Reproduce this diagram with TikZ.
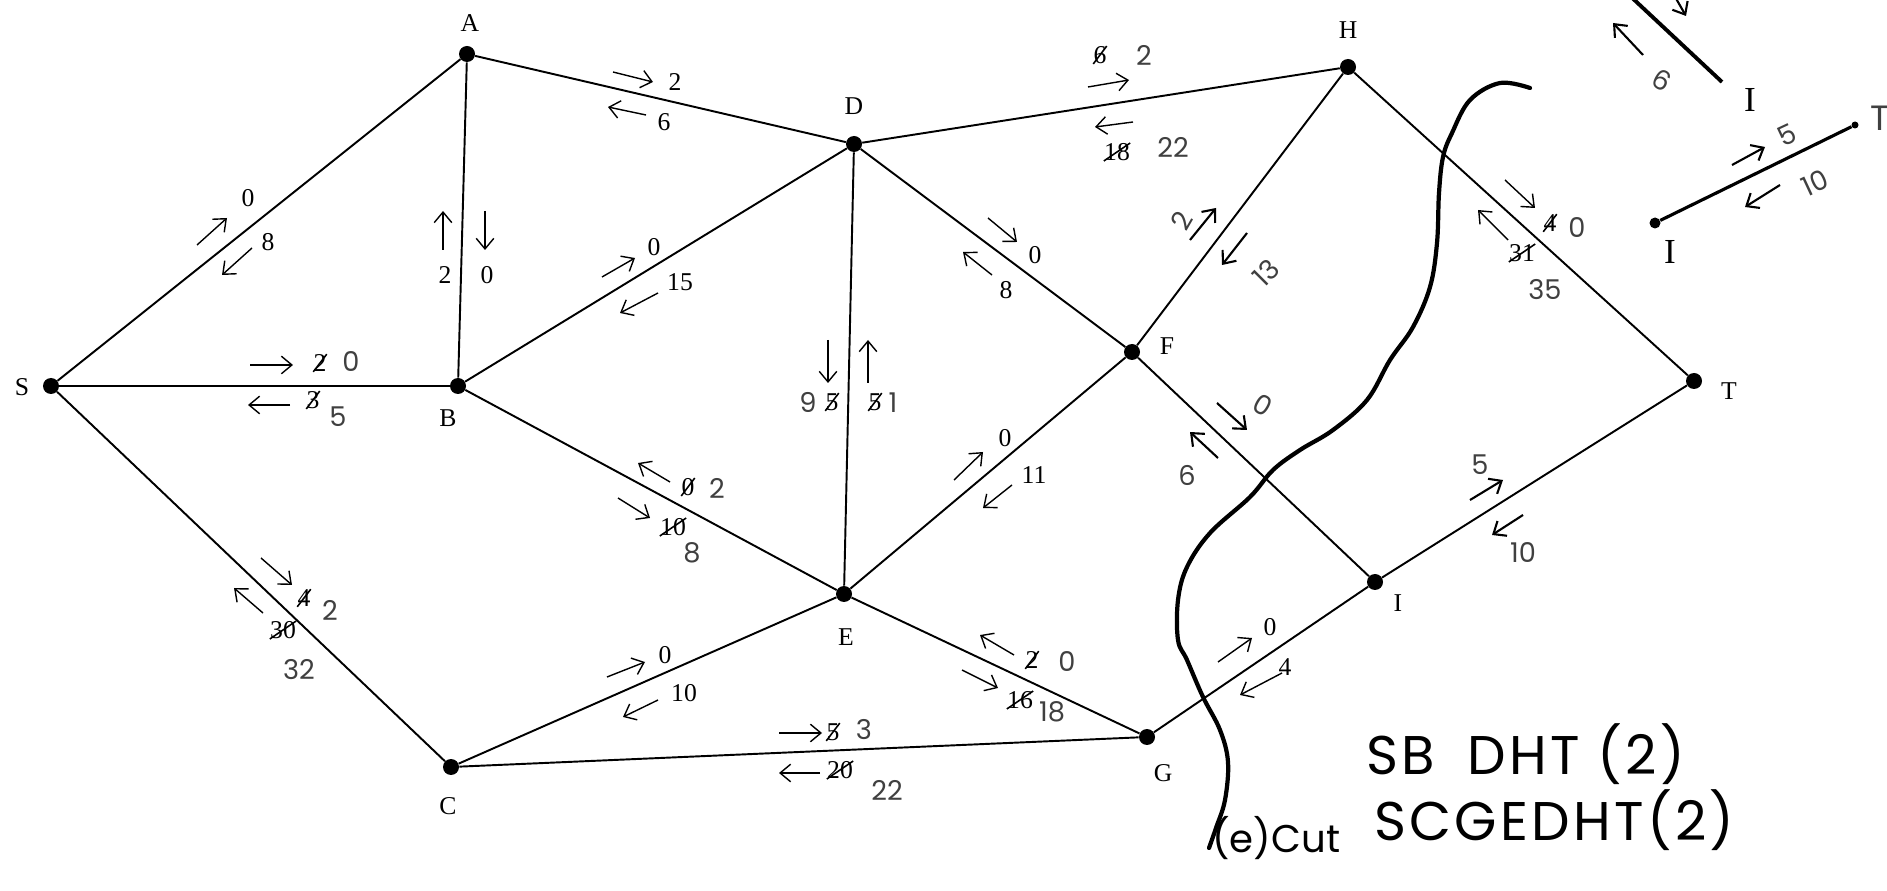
\documentclass[tikz,border=0pt]{standalone}
\usepackage{fontspec}
\setmainfont{Liberation Serif}
\newfontfamily\handfont{Poppins}
\newfontfamily\notefont[LetterSpace=6]{Poppins}
\usetikzlibrary{arrows.meta}

% short flow arrow beside an edge
\newcommand\fl[3][flow]{\draw[#1] (#2) -- (#3);}

\tikzset{
    % vertex dot
    vertex/.style={
        circle,
        fill=black,
        inner sep=0pt,
        minimum size=0.32cm
    },
    % vertex letter
    vname/.style={
        font=\fontsize{14.6}{16}\selectfont,
        inner sep=0pt
    },
    % network edge
    edge/.style={
        line width=1.1pt
    },
    % printed flow arrow
    flow/.style={
        -{Straight Barb[length=6pt,width=10pt]},
        line width=0.8pt
    },
    % hand drawn flow arrow
    handflow/.style={
        flow,
        line width=1.2pt
    },
    % printed capacity
    num/.style={
        font=\fontsize{14.6}{16}\selectfont,
        inner sep=0pt
    },
    % printed capacity, crossed out by hand
    struck/.style={
        num,
        append after command={
            \pgfextra{\let\strnode=\tikzlastnode}
            (\strnode.south west) edge[line width=0.9pt] (\strnode.north east)
        }
    },
    % hand written capacity
    hnum/.style={
        font=\handfont\fontsize{15.5}{18}\selectfont,
        inner sep=0pt,
        text=black!75
    },
    % hand written note
    note/.style={
        font=\notefont\fontsize{31}{34}\selectfont,
        inner sep=0pt,
        anchor=west
    },
    % cut line
    cutline/.style={
        line width=2.4pt,
        line cap=round
    }
}

\begin{document}
\begin{tikzpicture}[x=0.02cm, y=-0.02cm]
\clip (0,0) rectangle (1887,891);
\fill[white] (0,0) rectangle (1887,891);

% vertices
\node[vertex] (S) at (51,386) {};
\node[vertex] (A) at (467,54) {};
\node[vertex] (B) at (458,386) {};
\node[vertex] (C) at (451,767) {};
\node[vertex] (D) at (854,144) {};
\node[vertex] (E) at (844,594) {};
\node[vertex] (F) at (1132,352) {};
\node[vertex] (G) at (1147,737) {};
\node[vertex] (H) at (1348,67) {};
\node[vertex] (I) at (1375,582) {};
\node[vertex] (T) at (1694,381) {};

\node[vname] (nS) at (22,387) {S};
\node[vname] (nA) at (470,23) {A};
\node[vname] (nB) at (448,418) {B};
\node[vname] (nC) at (448,806) {C};
\node[vname] (nD) at (854,106) {D};
\node[vname] (nE) at (846,637) {E};
\node[vname] (nF) at (1167,346) {F};
\node[vname] (nG) at (1163,773) {G};
\node[vname] (nH) at (1348,30) {H};
\node[vname] (nI) at (1398,603) {I};
\node[vname] (nT) at (1729,391) {T};

% edges
\draw[edge] (S) -- (A);
\draw[edge] (S) -- (B);
\draw[edge] (S) -- (C);
\draw[edge] (A) -- (B);
\draw[edge] (A) -- (D);
\draw[edge] (B) -- (D);
\draw[edge] (B) -- (E);
\draw[edge] (C) -- (E);
\draw[edge] (C) -- (G);
\draw[edge] (D) -- (E);
\draw[edge] (D) -- (F);
\draw[edge] (D) -- (H);
\draw[edge] (E) -- (F);
\draw[edge] (E) -- (G);
\draw[edge] (F) -- (H);
\draw[edge] (F) -- (I);
\draw[edge] (G) -- (I);
\draw[edge] (H) -- (T);
\draw[edge] (I) -- (T);

% S-A
\fl{197,245}{227,218} \node[num] (sa1) at (248,198) {0};
\fl{252,248}{222,275} \node[num] (sa2) at (268,242) {8};
% A-B
\fl{443,250}{443,211} \node[num] (ab1) at (445,275) {2};
\fl{485,211}{485,250} \node[num] (ab2) at (487,275) {0};
% S-B
\fl{250,365}{293,365} \node[struck] (sb1) at (320,363) {2};
\node[hnum] (sb2) at (351,362) {0};
\fl{290,405}{248,405} \node[struck] (sb3) at (313,400) {3};
\node[hnum] (sb4) at (338,417) {5};
% A-D
\fl{613,72}{653,82} \node[num] (ad1) at (675,82) {2};
\fl{646,115}{608,107} \node[num] (ad2) at (664,122) {6};
% D-H
\fl{1088,87}{1129,80} \node[struck] (dh1) at (1100,55) {6};
\node[hnum] (dh2) at (1144,55) {2};
\fl{1133,122}{1095,127} \node[struck] (dh3) at (1117,152) {18};
\node[hnum] (dh4) at (1173,147) {22};
% B-D
\fl{602,277}{635,258} \node[num] (bd1) at (654,247) {0};
\fl{658,293}{620,313} \node[num] (bd2) at (680,282) {15};
% D-F
\fl{988,218}{1017,242} \node[num] (df1) at (1035,255) {0};
\fl{992,275}{963,252} \node[num] (df2) at (1006,290) {8};
% D-E
\fl{828,340}{828,383} \node[hnum] (de1) at (808,402) {9};
\node[struck] (de2) at (832,402) {5};
\fl{868,383}{868,340} \node[struck] (de3) at (875,402) {5};
\node[hnum] (de4) at (893,403) {1};
% F-H
\node[hnum, rotate=60] (fh1) at (1182,221) {2};
\fl[handflow]{1190,240}{1216,208}
\fl[handflow]{1247,233}{1222,265}
\node[hnum, rotate=45] (fh2) at (1266,273) {13};
% H-T
\fl{1505,180}{1535,208} \node[struck] (ht1) at (1550,223) {4};
\node[hnum] (ht2) at (1577,228) {0};
\fl{1508,240}{1478,210} \node[struck] (ht3) at (1522,253) {31};
\node[hnum] (ht4) at (1545,290) {35};
% F-I
\fl[handflow]{1217,403}{1247,430} \node[hnum, rotate=-30] (fi1) at (1263,405) {0};
\fl[handflow]{1218,458}{1190,432} \node[hnum] (fi2) at (1187,475) {6};
% E-F
\fl{954,480}{983,452} \node[num] (ef1) at (1005,438) {0};
\fl{1012,485}{983,508} \node[num] (ef2) at (1034,475) {11};
% B-E
\fl{670,482}{638,463} \node[struck] (be1) at (688,487) {0};
\node[hnum] (be2) at (717,488) {2};
\fl{618,498}{650,518} \node[struck] (be3) at (673,527) {10};
\node[hnum] (be4) at (692,553) {8};
% S-C
\fl{261,558}{292,585} \node[struck] (sc1) at (304,598) {4};
\node[hnum] (sc2) at (330,610) {2};
\fl{263,613}{234,588} \node[struck] (sc3) at (283,630) {30};
\node[hnum] (sc4) at (299,670) {32};
% C-E
\fl{607,677}{645,662} \node[num] (ce1) at (665,655) {0};
\fl{658,700}{623,717} \node[num] (ce2) at (684,693) {10};
% C-G
\fl{779,733}{822,733} \node[struck] (cg1) at (833,732) {5};
\node[hnum] (cg2) at (864,730) {3};
\fl{820,773}{779,773} \node[struck] (cg3) at (840,770) {20};
\node[hnum] (cg4) at (887,790) {22};
% E-G
\fl{1014,655}{980,635} \node[struck] (eg1) at (1032,660) {2};
\node[hnum] (eg2) at (1067,662) {0};
\fl{962,670}{998,688} \node[struck] (eg3) at (1020,700) {16};
\node[hnum] (eg4) at (1052,712) {18};
% G-I
\fl{1218,662}{1252,638} \node[num] (gi1) at (1270,627) {0};
\fl{1282,673}{1240,695} \node[num] (gi2) at (1285,667) {4};
% I-T
\node[hnum] (it1) at (1480,465) {5};
\fl[handflow]{1470,500}{1503,480}
\fl[handflow]{1523,515}{1492,535}
\node[hnum] (it2) at (1523,553) {10};

% the cut
\draw[cutline] plot[smooth, tension=0.6] coordinates {
    (1530,88) (1500,83) (1470,100) (1452,133) (1443,157) (1439,193)
    (1437,243) (1430,287) (1413,327) (1390,360) (1367,400) (1333,430)
    (1300,450) (1273,470) (1250,497) (1210,533) (1187,567) (1178,600)
    (1178,640) (1187,660) (1203,697) (1220,730) (1228,762) (1225,800)
    (1216,828) (1209,848)};
\node[note, font=\handfont\fontsize{22}{26}\selectfont] (cutlab) at (1212,838) {(e)Cut};

% augmenting paths
\node[note] (path1) at (1366,754) {SB\hspace{0.6em}DHT (2)};
\node[note] (path2) at (1374,820) {SCGEDHT(2)};

% side sketch: F-I and I-T
\coordinate (sFI) at (1628,-6);
\coordinate (sI) at (1722,82);
\draw[line width=2.2pt] (sFI) -- (sI);
\node[vname, font=\fontsize{20}{22}\selectfont] (sIlab) at (1750,100) {I};
\fl[handflow]{1670,-12}{1686,16}
\fl[handflow]{1643,55}{1613,23}
\node[hnum, rotate=-30] (s6) at (1662,80) {6};
\node[vertex, minimum size=0.22cm] (sI2) at (1655,223) {};
\node[vertex, minimum size=0.14cm] (sT2) at (1855,125) {};
\draw[line width=1.8pt] (sI2) -- (sT2);
\node[vname, font=\fontsize{20}{22}\selectfont] (sI2lab) at (1670,252) {I};
\node[hnum, font=\handfont\fontsize{20}{22}\selectfont] (sT2lab) at (1880,118) {T};
\fl[handflow]{1732,165}{1765,147}
\node[hnum, rotate=25] (s5) at (1787,135) {5};
\fl[handflow]{1780,185}{1745,207}
\node[hnum, rotate=25] (s10) at (1815,183) {10};
\end{tikzpicture}
\end{document}
